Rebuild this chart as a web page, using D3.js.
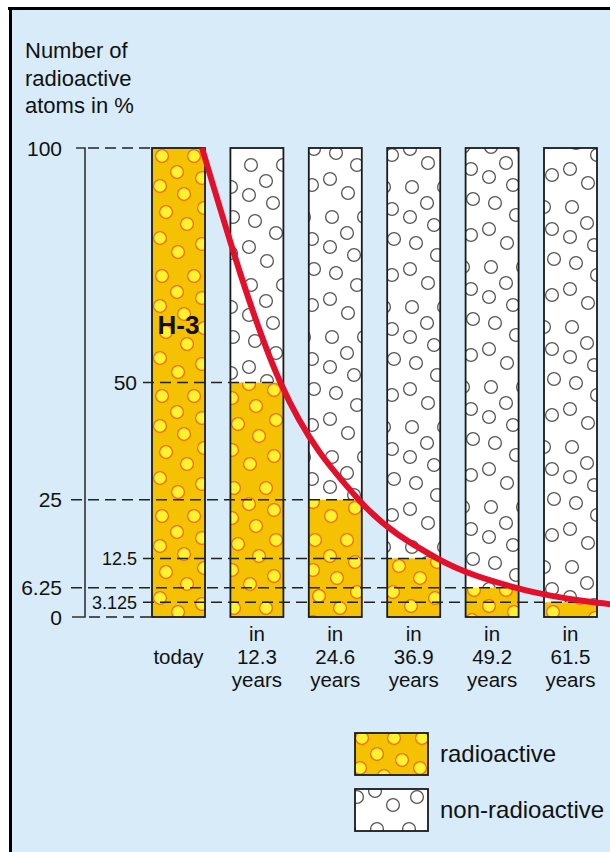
<!DOCTYPE html>
<html><head><meta charset="utf-8">
<script src="https://cdn.jsdelivr.net/npm/d3@7"></script>
<style>body{margin:0;background:#fff}svg{display:block}</style>
</head><body><svg id="c" width="610" height="852"></svg>
<script>
// ---- data ----
const years = [0, 12.3, 24.6, 36.9, 49.2, 61.5];
const categoryLabels = [["today"], ["in","12.3","years"], ["in","24.6","years"], ["in","36.9","years"], ["in","49.2","years"], ["in","61.5","years"]];
const radioactivePct = [100, 50, 25, 12.5, 6.25, 3.125];
const curveYears = [0, 12.3, 24.6, 36.9, 49.2, 61.5, 65];
const curvePct = [100, 50, 25, 12.5, 6.25, 3.125, 2.6];
const tickValues = [100, 50, 25, 12.5, 6.25, 3.125, 0];
const tickLabels = ["100", "50", "25", "12.5", "6.25", "3.125", "0"];
const tickInner = [false, true, false, true, false, true, false];
const titleLines = ["Number of", "radioactive", "atoms in %"];
const legendLabels = ["radioactive", "non-radioactive"];
const isotope = "H-3";

// ---- setup ----
const svg = d3.select("#c");
const FONT = "'Liberation Sans', Arial, Helvetica, sans-serif";
const y = d3.scaleLinear().domain([0, 100]).range([617, 148]);
const x = d3.scaleLinear().domain([0, 61.5]).range([152, 544]);
const barW = 53;

function txt(g, px, py, s, size, anchor, weight) {
  return g.append("text")
    .attr("x", px).attr("y", py)
    .attr("font-family", FONT).attr("font-size", size)
    .attr("font-weight", weight || "normal")
    .attr("text-anchor", anchor || "start")
    .attr("fill", "#111").text(s);
}

// patterns
const defs = svg.append("defs");
const TW = 60, TH = 120;
const circlePos = [[10,10],[42,10],[25,26],[50,32],[8,40],[32,48],[52,62],[14,66],[35,78],[8,92],[50,98],[26,106]];
function makePattern(id, bg, fill, stroke, sw, dx, dy) {
  const p = defs.append("pattern").attr("id", id).attr("patternUnits", "userSpaceOnUse")
    .attr("width", TW).attr("height", TH)
    .attr("patternTransform", `translate(${dx},${dy})`);
  p.append("rect").attr("width", TW).attr("height", TH).attr("fill", bg);
  const offs = [[0,0],[TW,0],[-TW,0],[0,TH],[0,-TH],[TW,TH],[-TW,-TH],[TW,-TH],[-TW,TH]];
  offs.forEach(o => {
    p.selectAll(null).data(circlePos).enter().append("circle")
      .attr("cx", d => d[0] + o[0]).attr("cy", d => d[1] + o[1]).attr("r", 6.4)
      .attr("fill", fill).attr("stroke", stroke).attr("stroke-width", sw);
  });
}
const offsets = [[152,146],[224,118],[305,170],[385,140],[464,100],[545,160],[352,728],[350,782]];
offsets.forEach((o, i) => {
  makePattern("py" + i, "#f4c200", "#fff22e", "#f26a1c", 1.3, o[0], o[1]);
  makePattern("pw" + i, "#ffffff", "#ffffff", "#555555", 1.3, o[0] + 17, o[1] + 37);
});
defs.append("clipPath").attr("id", "curveClip").append("rect")
  .attr("x", 0).attr("y", y(100) - 1).attr("width", 610).attr("height", 600);

// background and frame
svg.append("rect").attr("x", 11).attr("y", 9).attr("width", 599).attr("height", 843).attr("fill", "#d7ebf8");
svg.append("line").attr("x1", 8).attr("x2", 610).attr("y1", 8.5).attr("y2", 8.5).attr("stroke", "#000").attr("stroke-width", 3);
svg.append("line").attr("x1", 10.5).attr("x2", 10.5).attr("y1", 7).attr("y2", 852).attr("stroke", "#000").attr("stroke-width", 3);

// title
const title = svg.append("text").attr("font-family", FONT).attr("font-size", 22).attr("fill", "#111");
titleLines.forEach((t, i) => title.append("tspan").attr("x", 25).attr("y", 58 + i * 27.5).text(t));

// bars
const bars = svg.append("g");
years.forEach((yr, i) => {
  const bx = x(yr);
  bars.append("rect").attr("x", bx).attr("y", y(100)).attr("width", barW)
    .attr("height", y(radioactivePct[i]) - y(100)).attr("fill", `url(#pw${i})`);
  bars.append("rect").attr("x", bx).attr("y", y(radioactivePct[i])).attr("width", barW)
    .attr("height", y(0) - y(radioactivePct[i])).attr("fill", `url(#py${i})`);
  bars.append("rect").attr("x", bx).attr("y", y(100)).attr("width", barW)
    .attr("height", y(0) - y(100)).attr("fill", "none").attr("stroke", "#1a1a1a").attr("stroke-width", 1.8);
});

// bracket axis
svg.append("path").attr("d", `M76,${y(100)}H85V${y(0)}H72`).attr("fill", "none")
  .attr("stroke", "#333").attr("stroke-width", 1.6);

// dashed reference lines and tick labels
tickValues.forEach((v, i) => {
  const yy = y(v);
  let x1 = tickInner[i] ? 143 : 71;
  let x2;
  const bi = radioactivePct.indexOf(v);
  if (v === 100) { x1 = 88; x2 = x(years[0]); }
  else if (v === 0) { x1 = 89; x2 = x(years[0]); }
  else x2 = x(years[bi]) + barW;
  svg.append("line").attr("x1", x1).attr("x2", x2).attr("y1", yy).attr("y2", yy)
    .attr("stroke", "#222").attr("stroke-width", 1.5).attr("stroke-dasharray", "11,6");
  const small = tickInner[i] && v !== 50;
  txt(svg, tickInner[i] ? 137 : 62, yy + (small ? 6.5 : 7.5), tickLabels[i], small ? 18 : 21, "end");
});

// decay curve
const line = d3.line().x((d, i) => x(curveYears[i]) + barW - 3).y(d => y(d)).curve(d3.curveMonotoneX);
svg.append("path").datum(curvePct).attr("d", line).attr("fill", "none")
  .attr("stroke", "#e3102b").attr("stroke-width", 6).attr("clip-path", "url(#curveClip)");

// isotope label
txt(svg, x(years[0]) + barW / 2, 334, isotope, 26, "middle", "bold");

// category labels
categoryLabels.forEach((lines, i) => {
  const cx = x(years[i]) + barW / 2;
  const start = lines.length === 1 ? 664 : 641;
  const t = svg.append("text").attr("font-family", FONT).attr("font-size", 20.5)
    .attr("text-anchor", "middle").attr("fill", "#111");
  lines.forEach((s, j) => t.append("tspan").attr("x", cx).attr("y", start + j * 23).text(s));
});

// legend
const lg = svg.append("g");
legendLabels.forEach((s, i) => {
  const ly = 733 + i * 56;
  lg.append("rect").attr("x", 355).attr("y", ly).attr("width", 73).attr("height", 42)
    .attr("fill", i === 0 ? "url(#py6)" : "url(#pw7)").attr("stroke", "#1a1a1a").attr("stroke-width", 1.8);
  txt(lg, 440, ly + 29, s, 24);
});
</script></body></html>
